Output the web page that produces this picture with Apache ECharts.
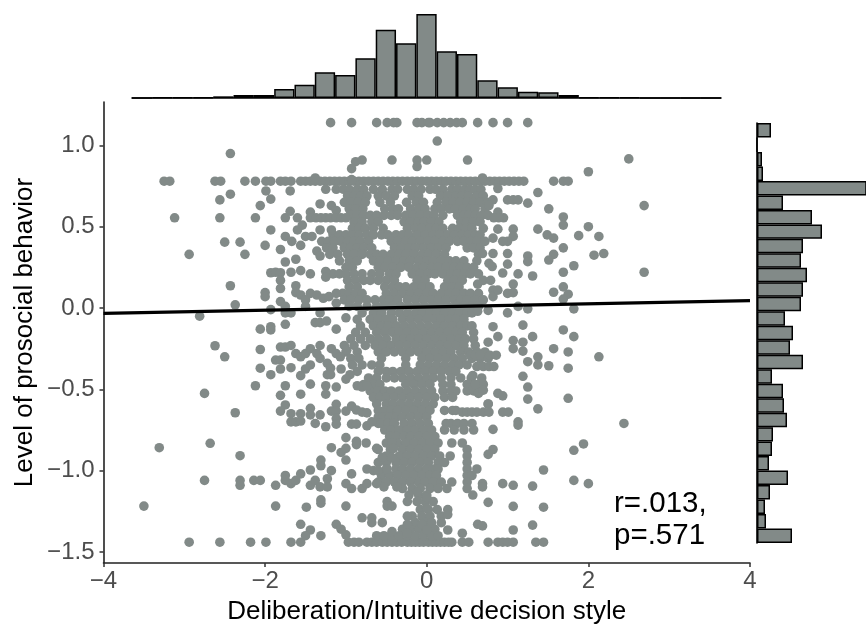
<!DOCTYPE html>
<html><head><meta charset="utf-8">
<style>html,body{margin:0;padding:0;background:#fff}#c{width:866px;height:624px}</style>
<script src="https://cdn.jsdelivr.net/npm/echarts@6/dist/echarts.min.js"></script>
</head><body><div id="c"></div>
<script>
const xTitle = 'Deliberation/Intuitive decision style';
const yTitle = 'Level of prosocial behavior';
const yTicks = [-1.5,-1,-0.5,0,0.5,1];
const fitX = [-4, 4];
const fitY = [-0.033, 0.045];
const topCounts = [0,1,2,2,5,9,9,27,40,77,69,119,205,164,252,140,132,53,32,19,17,9,2,2,2,0,0,0,0];
const rightCounts = [14,0,5,6,115,26,55,65,46,44,50,46,44,28,36,33,46,15,26,27,30,16,15,12,31,13,8,9,35];
const binIds = topCounts.map((_, i) => i + 1);
const rowLevels = [1.14,0.78,-1.44];
const rowValues = [
 [-1.19,-.93,-.62,-.49,-.41,-.37,-.12,-.06,.02,.04,.13,.21,.29,.37,.44,.63,.82,1,1.25],
 [-3.25,-3.18,-2.62,-2.55,-2.25,-2.12,-1.99,-1.93,-1.81,-1.75,-1.68,-1.56,-1.5,-1.44,-1.38,-1.32,-1.26,-1.2,-1.14,-1.08,-1.02,-.96,-.9,-.84,-.78,-.72,-.66,-.6,-.54,-.48,-.42,-.36,-.3,-.24,-.18,-.12,-.06,0,.06,.12,.18,.24,.3,.36,.42,.48,.54,.6,.66,.72,.78,.84,.9,.96,1.02,1.08,1.14,1.2,1.57,1.69,1.75],
 [-2.94,-2.56,-2.18,-1.99,-1.68,-1.56,-.97,-.9,-.84,-.74,-.68,-.62,-.55,-.49,-.43,-.37,-.31,-.24,-.19,-.14,-.09,-.04,.02,.07,.12,.17,.22,.27,.31,.44,.52,.76,.88,.94,1,1.07,1.35,1.445]
];
const sparsePoints = [
[-2.43,.95],[-.8,.91],[-.43,.91],[-.12,.91],[0,.91],[.505,.91],[2.5,.917],[-.88,.9],[-.93,.857],[-.12,.87],[.13,1.027],[2,.838],[-1.38,.8],[.69,.8],[-.93,.79],
[-1.25,.73],[-1.99,.72],[-1.93,.67],[-1.69,.72],[-2.43,.7],[-2.56,.665],[-2.06,.63],[-1.32,.64],[-1.18,.63],[-1.12,.6],[-3.12,.555],[-2.56,.555],[-2.12,.555],[-1.75,.555],[-1.69,.595],[-1.6,.555],[-1.44,.59],[-1.44,.555],[-1.37,.555],[-1.31,.555],[-1.25,.555],[-1.19,.555],[-1.12,.555],[-1.06,.555],[-1,.555],
[-1.93,.48],[-1.6,.48],[-1.54,.51],[-1.32,.48],[-1.18,.48],[-1.75,.44],[-1.67,.41],[-1.56,.385],[-1.5,.44],[-1.42,.44],[-2.5,.405],[-2.31,.405],[-2,.385],[-1.81,.36],[-2.94,.33],[-2.25,.33],[-1.36,.35],[-1.32,.32],[-1.75,.283],[-1.62,.3],
[-1.93,.217],[-1.87,.22],[-1.81,.217],[-1.68,.22],[-1.56,.23],[-1.44,.21],[-1.25,.225],[-1.25,.19],[-1.81,.17],[-1.81,.12],[-2.43,.137],[-1.62,.137],[-2,.095],[-2,.07],[-1.62,.095],[-1.56,.08],[-1.44,.09],[-1.36,.08],[-1.28,.06],[-1.21,.07],[-1.5,.05],[-1.12,.09],[-1.12,.03],[-2.37,.02],[-1.81,.04],[-1.75,.01],[-1.93,-.01],[-1.75,-.03],[-1.68,-.03],[-1.5,.01],[-2.81,-.05],[-1.32,-.03],[-1,-.06],[-2.06,-.13],[-1.93,-.115],[-1.75,-.1],[-1.38,-.09],[-1.32,-.09],[-1.24,-.08],[-1.12,-.13],
[.88,.735],[1.375,.71],[1,.665],[1.07,.665],[1.13,.665],[1.25,.645],[1.51,.61],[2.69,.63],[.82,.665],[.77,.63],[.88,.59],[1.69,.56],[1.69,.51],[.95,.555],[.89,.555],[.83,.555],[.88,.485],[1.07,.485],[1.375,.485],[1.49,.45],[1.57,.43],[2,.5],[1.88,.445],[2.13,.44],[1.69,.37],[1.07,.44],[1,.41],[.94,.41],[.82,.43],
[.69,.335],[.82,.335],[1,.335],[1.25,.32],[1.25,.285],[1.57,.33],[1.51,.295],[2.07,.325],[2.19,.335],[1.82,.26],[1.69,.22],[2.69,.22],[1,.27],[.77,.275],[.81,.255],[.94,.215],[1.13,.21],[1.31,.197],[.79,.17],[1.07,.147],[.63,.147],[.82,.11],[.82,.07],[.88,.11],[1,.09],[1.07,.095],[1.57,.097],[1.69,.13],[1.75,.085],[1.69,.055],[1.13,.01],[1.25,-.005],[1.82,-.005],[1,-.03],[.63,-.02],[.76,-.015],[.82,-.115],[1.19,-.105],[1.69,-.135],
[1.82,-.176],[1.31,-.176],[1.07,-.2],[1.19,-.21],[.88,-.176],[.76,-.21],[1.07,-.25],[1.19,-.265],[1.57,-.25],[1.75,-.27],[2.13,-.3],[1.375,-.3],[1.25,-.33],[1.375,-.35],[1.51,-.355],[1.75,-.37],[1.19,-.42],[1.25,-.486],[1.25,-.56],[1.75,-.555],[1.375,-.62],[1.13,-.7],[1.13,-.72],[2.44,-.71],[.82,-.746],[1.94,-.836],[1.82,-.875],[.82,-.87],[.76,-.9],[1.445,-.996],[1.82,-1.06],[2,-1.08],[.94,-1.08],[1.07,-1.09],[1.31,-1.095],[.69,-1.08],[.69,-1.1],[.76,-1.195],[1.07,-1.22],[1.445,-1.225],[1.31,-1.335],[1.07,-1.365],[.63,-1.33],[.69,-1.34],[.44,-1.385],[.26,-1.365],[.26,-1.27],
[.88,-.525],[.94,-.54],[.76,-.59],[.94,-.64],[1.01,-.64],[.44,-.64],[.5,-.64],[.56,-.64],[.62,-.64],[.7,-.64],[.77,-.64],[.57,-.415],[.68,-.453],[.52,-.495],[.58,-.495],[.64,-.525],[.7,-.505],[.6,-.47],[.62,-.36],[.7,-.36],[.77,-.36],[.83,-.36],[.54,-.29],[.6,-.29],[.66,-.29],[.78,-.29],[.86,-.29],
[-2.62,-.232],[-2.5,-.3],[-1.93,-.135],[-2.06,-.255],[-1.81,-.24],[-1.75,-.24],[-1.68,-.23],[-1.87,-.32],[-1.81,-.32],[-2.06,-.37],[-1.81,-.375],[-1.68,-.367],[-1.93,-.41],[-1.62,-.28],[-1.56,-.3],[-1.5,-.28],[-1.44,-.25],[-1.32,-.23],[-1.18,-.25],[-1.36,-.28],[-1.32,-.31],[-1.12,-.28],[-.99,-.26],[-1.07,-.3],[-1.44,-.35],[-1.5,-.375],[-1.56,-.416],[-1.23,-.34],[-1.19,-.37],[-1.23,-.41],[-1.19,-.41],[-1.06,-.375],[-.95,-.41],[-1,-.437],[-2.12,-.478],[-2.75,-.525],[-1.75,-.478],[-1.44,-.468],[-1.25,-.478],[-1.12,-.486],[-1.81,-.537],[-1.56,-.53],[-1.25,-.53],[-.86,-.478],[-.8,-.486],[-.74,-.478],
[-2.37,-.644],[-1.75,-.596],[-1.81,-.634],[-1.68,-.65],[-1.56,-.65],[-1.44,-.617],[-1.44,-.657],[-1.32,-.657],[-1.12,-.592],[-1.18,-.634],[-1.12,-.634],[-1.12,-.68],[-1.12,-.714],[-1.68,-.7],[-1.62,-.7],[-1.56,-.695],[-1.38,-.71],[-1.25,-.73],[-1,-.634],[-.93,-.603],[-.87,-.627],[-.8,-.64],[-.74,-.645],[-.93,-.714],[-.87,-.714],[-.74,-.725],[-.68,-.7],
[-1,-.797],[-.87,-.82],[-.87,-.84],[-.75,-.83],[-1.18,-.859],[-1.06,-.888],[-1,-.863],[-1,-.935],[-.62,-.863],[-.55,-.918],[-.43,-.83],[-.43,-.92],[-.41,-.863],[-2.68,-.832],[-3.31,-.859],[-2.31,-.908],[-1.31,-.935],[-1.31,-.97],[-1.44,-.996],[-1.18,-1],[-1.56,-1.02],[-1.75,-1.03],[-1.75,-1.06],[-1.68,-1.08],[-1.62,-1.06],[-1.87,-1.09],[-2.75,-1.06],[-2.31,-1.06],[-2.31,-1.09],[-2.14,-1.06],[-2.06,-1.06],[-1.44,-1.09],[-1.38,-1.06],[-1.32,-1.1],[-1.23,-1.05],[-1.23,-1.1],[-1,-1.08],[-.93,-1.02],[-.93,-1.11],[-.8,-1.11],[-.74,-1.08],[-.74,-.99],[-.66,-1],[-.6,-1],[-.62,-1.08],[-.53,-1.1],[-.49,-.99],[-.37,-1.1],[-.12,-1.13],
[-3.5,-1.218],[-1.87,-1.218],[-1.49,-1.225],[-1.31,-1.18],[-1.31,-1.2],[-1,-1.218],[-.49,-1.19],[-.49,-1.218],[-.43,-1.218],[-.24,-1.19],[0,-1.165],[0,-1.23],[-.8,-1.29],[-.68,-1.29],[-.68,-1.32],[-.55,-1.32],[-.24,-1.28],[-.24,-1.33],[-.06,-1.33],[-1.56,-1.33],[-1.12,-1.33],[-1.06,-1.36],[-1,-1.395],[-1.44,-1.365],[-1.5,-1.4],[-1.31,-1.4],[-.43,-1.375],[-.62,-1.4],[-.53,-1.4],[-.24,-1.385],[0,-1.365]
];
const coreLevels = [.73,.69,.65,.61,.57,.53,.49,.45,.41,.37,.33,.29,.25,.21,.17,.13,.09,.05,.01,-.03,-.07,-.11,-.15,-.19,-.23,-.27,-.31,-.35,-.39,-.43,-.47,-.51,-.55,-.59,-.63,-.67,-.71,-.75,-.79,-.83,-.87,-.91,-.95,-.99,-1.03,-1.07,-1.11,-1.15,-1.19,-1.24,-1.28,-1.32,-1.36,-1.4];
const coreValues = [
[-1.12,-1.03,-.96,-.86,-.78,-.66,-.55,-.43,-.36,-.24,-.16,-.07,.04,.11,.2,.31,.38,.47,.53,.6,.67],
[-.98,-.9,-.82,-.74,-.6,-.5,-.4,-.18,-.1,.17,.26,.36,.44,.52,.62,.7],
[-1.02,-.94,-.85,-.76,-.58,-.45,-.25,-.13,-.04,.13,.24,.33,.41,.5,.58,.66,.75],
[-.96,-.88,-.79,-.52,-.42,-.35,-.2,-.1,-.02,.1,.18,.28,.35,.45,.54,.6,.72],
[-.94,-.86,-.78,-.7,-.62,-.53,-.44,-.36,-.26,-.17,-.08,.02,.09,.2,.38,.46,.52,.6,.68,.76],
[-.9,-.8,-.68,-.6,-.28,-.2,-.11,-.03,.06,.15,.42,.5,.58,.66],
[-.92,-.84,-.76,-.66,-.54,-.24,-.14,-.06,.04,.12,.2,.32,.4,.48,.56,.7],
[-1.16,-1.08,-1,-.92,-.84,-.74,-.66,-.56,-.48,-.38,-.3,-.22,-.12,-.02,.08,.16,.26,.34,.44,.52,.6,.66],
[-1.3,-1.22,-1.14,-1.06,-.98,-.9,-.82,-.72,-.44,-.36,-.26,-.18,-.08,.02,.1,.2,.28,.38,.46,.54,.62,.72],
[-1.24,-1.16,-1.02,-.94,-.86,-.78,-.68,-.4,-.32,-.22,-.14,-.04,.06,.14,.24,.5,.58,.66],
[-1.2,-1.1,-.98,-.9,-.8,-.7,-.62,-.54,-.44,-.34,-.26,-.16,-.06,.02,.12,.22,.64],
[-1.08,-.96,-.86,-.66,-.58,-.48,-.38,-.28,-.2,-.1,0,.08,.18,.28,.36,.46,.62],
[-1,-.92,-.6,-.52,-.42,-.32,-.22,-.12,-.04,.06,.14,.24,.34,.42,.5,.58],
[-1.16,-1.08,-1,-.9,-.8,-.68,-.58,-.46,-.38,-.18,-.08,.02,.1,.2,.3,.38,.46,.54,.64],
[-.98,-.88,-.78,-.7,-.6,-.5,-.4,-.12,-.02,.26,.34,.44,.7],
[-.96,-.86,-.52,-.42,-.34,-.26,-.16,-.06,.04,.22,.32,.4],
[-1.04,-.96,-.88,-.8,-.5,-.4,-.3,-.2,-.1,0,.08,.18,.28,.36,.46,.54,.64],
[-1.02,-.94,-.84,-.74,-.64,-.54,-.46,-.36,-.24,-.14,-.04,.06,.14,.24,.34,.42,.5,.6,.7],
[-.96,-.86,-.74,-.62,-.52,-.42,-.32,-.22,-.12,-.02,.08,.18,.26,.36,.46,.54,.64],
[-.8,-.66,-.56,-.44,-.34,-.24,-.14,-.06,.04,.12,.22,.32,.4,.5,.56],
[-.86,-.7,-.6,-.5,-.42,-.3,-.2,-.1,0,.1,.18,.28,.36,.46],
[-.82,-.66,-.56,-.48,-.38,-.28,-.18,-.08,.02,.12,.22,.32,.42,.5,.56],
[-.88,-.76,-.62,-.52,-.42,-.34,-.24,-.14,-.04,.06,.16,.26,.36,.44,.58],
[-.94,-.82,-.7,-.6,-.5,-.38,-.28,-.2,-.1,0,.1,.2,.3,.4,.48,.58],
[-1.02,-.9,-.76,-.64,-.54,-.44,-.34,-.24,-.14,-.04,.06,.16,.26,.36,.46,.6],
[-1,-.86,-.6,-.5,-.4,-.3,-.2,-.1,0,.1,.2,.3,.42,.52,.62,.72],
[-.94,-.84,-.56,-.26,-.06,.04,.14,.24,.34,.44,.56,.66,.76],
[-.92,-.8,-.68,-.58,-.26,-.08,.02,.12,.22,.32,.4,.5],
[-.86,-.6,-.5,-.42,-.32,-.22,-.12,-.02,.08,.18,.28,.36],
[-.72,-.62,-.5,-.4,-.3,-.2,-.1,0,.08,.18,.3,.42,.55,.68],
[-.78,-.66,-.58,-.26,-.16,-.06,.04,.2,.3,.5,.6,.7],
[-.7,-.6,-.52,-.44,-.34,-.24,-.14,-.04,.06,.2,.3,.36,.5,.58,.66],
[-.66,-.58,-.5,-.4,-.3,-.2,-.1,0,.1,.22,.32],
[-.62,-.5,-.42,-.32,-.22,-.12,-.02,.08,.76],
[-.6,-.52,-.44,-.36,-.26,-.16,-.06,.04,.22,.32,.36],
[-.6,-.54,-.46,-.38,-.3,-.2,-.1,0],
[-.6,-.56,-.48,-.4,-.28,-.18,-.08,.02,.24,.3,.38,.46,.56],
[-.52,-.44,-.34,-.24,-.14,-.04,.06,.22,.34,.46,.58],
[-.46,-.38,-.28,-.2,-.1,0,.1],
[-.5,-.36,-.26,-.16,-.06,.04,.14,.31,.44],
[-.6,-.45,-.3,-.2,-.1,0,.1,.5],
[-.5,-.34,-.24,-.14,-.04,.06,.16,.29,.5],
[-.6,-.5,-.38,-.28,-.18,-.08,.02,.14,.22,.5],
[-.5,-.38,-.3,-.2,-.1,0,.08,.14,.5,.62],
[-.56,-.46,-.36,-.26,-.16,-.06,.04,.12,.5,.56],
[-.6,-.5,-.4,-.3,-.2,-.1,-.02,.08,.18,.31,.5],
[-.3,-.18,-.08,.04,.14,.25,.5],
[-.22,-.1,0,.57],
[-.12,-.02,.08],
[-.08,.02,.13,.26],
[-.18,-.06,.04,.18],
[-.14,-.02,.06,.18],
[-.3,-.2,-.1,0,.1],
[-.44,-.34,-.24,-.14,-.04,.06,.14]
];
const statLines = 'r=.013,\np=.571';

const points = [];
rowLevels.forEach((y, i) => rowValues[i].forEach(x => points.push([x, y])));
coreLevels.forEach((y, i) => coreValues[i].forEach(x => points.push([x, y])));
sparsePoints.forEach(p => points.push(p));

const GREY = '#828a88';
const FONT = '"Liberation Sans", Arial, sans-serif';
const minus = v => String(v).replace('-', '\u2212');
const chart = echarts.init(document.getElementById('c'), null, {renderer: 'canvas'});
chart.setOption({
  animation: false,
  backgroundColor: '#fff',
  textStyle: {fontFamily: FONT},
  grid: [
    {left: 103.5, right: 116, top: 102, bottom: 61, outerBoundsMode: 'none'},
    {left: 132, width: 589, top: 14, height: 84, outerBoundsMode: 'none'},
    {left: 757, width: 109, top: 123, height: 420, outerBoundsMode: 'none'}
  ],
  xAxis: [
    {gridIndex: 0, type: 'value', min: -4, max: 4, interval: 2, splitLine: {show: false},
     axisLine: {onZero: false, lineStyle: {color: '#222', width: 1.6}},
     axisTick: {length: 4, lineStyle: {color: '#333', width: 1.5}},
     axisLabel: {color: '#4d4d4d', fontSize: 24, margin: 6, fontFamily: FONT, formatter: v => minus(v)},
     name: xTitle, nameLocation: 'middle', nameGap: 36, nameMoveOverlap: false,
     nameTextStyle: {color: '#000', fontSize: 26, fontFamily: FONT}},
    {gridIndex: 1, type: 'category', data: binIds, show: true,
     axisLine: {lineStyle: {color: '#000', width: 1.6}}, axisTick: {show: false}, axisLabel: {show: false}},
    {gridIndex: 2, type: 'value', min: 0, max: 109, show: false}
  ],
  yAxis: [
    {gridIndex: 0, type: 'value', min: -1.568, max: 1.267, splitLine: {show: false},
     axisLine: {show: true, onZero: false, lineStyle: {color: '#222', width: 1.6}},
     axisTick: {show: true, length: 4, customValues: yTicks, lineStyle: {color: '#333', width: 1.5}},
     axisLabel: {color: '#4d4d4d', fontSize: 24, margin: 9, fontFamily: FONT, customValues: yTicks,
       formatter: v => minus(Number(v).toFixed(1))},
     name: yTitle, nameLocation: 'middle', nameGap: 66, nameMoveOverlap: false,
     nameTextStyle: {color: '#000', fontSize: 26, fontFamily: FONT}},
    {gridIndex: 1, type: 'value', min: 0, max: 252, show: false},
    {gridIndex: 2, type: 'category', inverse: true, data: binIds,
     axisLine: {show: true, lineStyle: {color: '#000', width: 1.6}}, axisTick: {show: false}, axisLabel: {show: false}}
  ],
  series: [
    {type: 'scatter', xAxisIndex: 0, yAxisIndex: 0, data: points, symbolSize: 9.6,
     itemStyle: {color: GREY, opacity: 1}, silent: true, z: 2, large: false},
    {type: 'line', xAxisIndex: 0, yAxisIndex: 0, data: fitX.map((x, i) => [x, fitY[i]]), showSymbol: false,
     lineStyle: {color: '#000', width: 3.2}, silent: true, z: 3},
    {type: 'bar', xAxisIndex: 1, yAxisIndex: 1, data: topCounts, barWidth: '100%',
     itemStyle: {color: GREY, borderColor: '#000', borderWidth: 1.5}, silent: true},
    {type: 'bar', xAxisIndex: 2, yAxisIndex: 2, data: rightCounts, barWidth: '100%',
     itemStyle: {color: GREY, borderColor: '#000', borderWidth: 1.5}, silent: true}
  ],
  graphic: [{type: 'text', left: 614, top: 488, silent: true,
    style: {text: statLines, fill: '#000', font: '29.5px ' + FONT, lineHeight: 32}}]
});
</script></body></html>
